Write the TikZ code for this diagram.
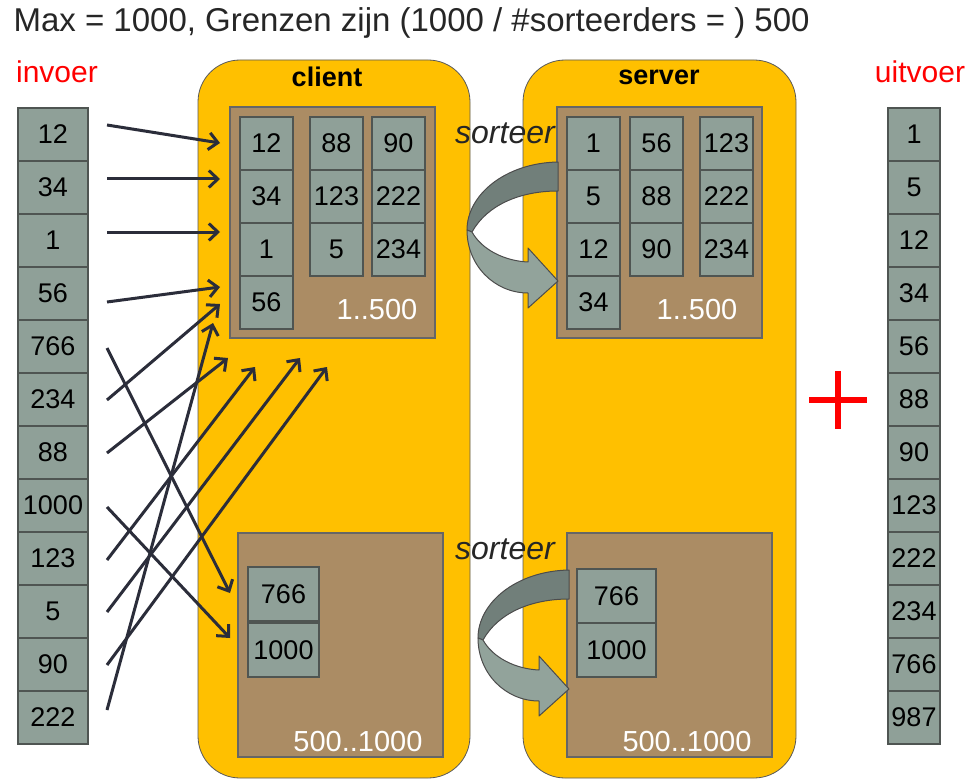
\documentclass[tikz,border=0pt]{standalone}
\usepackage{fontspec}
\setmainfont{Liberation Sans}
\usetikzlibrary{arrows.meta,calc}
\definecolor{ylw}{HTML}{FFC000}
\definecolor{brn}{HTML}{AB8C64}
\definecolor{cellfill}{HTML}{8FA098}
\definecolor{cellline}{HTML}{4F5552}
\definecolor{arrdark}{HTML}{717F7A}
\definecolor{arrlight}{HTML}{92A39B}
\definecolor{conncol}{HTML}{2B2D3A}
\tikzset{
  cell/.style={draw=cellline, fill=cellfill, line width=1.2pt, minimum width=53pt, minimum height=53pt, inner sep=0pt, font=\fontsize{27}{30}\selectfont, text=black},
  brownbox/.style={draw=gray!80!black, fill=brn, line width=1.2pt, inner sep=0pt},
  sidebox/.style={draw=gray!70!black, fill=ylw, line width=0.8pt, rounded corners=42pt},
  conn/.style={draw=conncol, line width=3pt, -{Straight Barb[length=9pt,width=17pt,line width=3pt]}},
  rangelbl/.style={text=white, font=\fontsize{29}{32}\selectfont},
  sortlbl/.style={font=\fontsize{32}{34}\selectfont\itshape, text=black!85},
  curvearrow/.style={draw=gray!60!black, line width=1pt, line join=round},
}
\begin{document}
\begin{tikzpicture}[x=1pt,y=-1pt]
\useasboundingbox (0,0) rectangle (975,781);
\fill[white] (0,0) rectangle (975,781);
% client / server
\draw[sidebox] (198,60) rectangle (470,778);
\draw[sidebox] (523,60) rectangle (796,778);
\node[font=\fontsize{27}{30}\selectfont\bfseries] (clientlbl) at (327,77) {client};
\node[font=\fontsize{27}{30}\selectfont\bfseries] (serverlbl) at (659,77) {server};
% brown boxes
\node[brownbox, minimum width=205pt, minimum height=231pt] (ctop) at (332.5,222.5) {};
\node[brownbox, minimum width=205pt, minimum height=231pt] (stop) at (659.5,222.5) {};
\node[brownbox, minimum width=205pt, minimum height=224pt] (cbot) at (340.5,645) {};
\node[brownbox, minimum width=205pt, minimum height=224pt] (sbot) at (669.5,645) {};
\node[rangelbl] (r1) at (377,310) {1..500};
\node[rangelbl] (r2) at (697,310) {1..500};
\node[rangelbl] (r3) at (358,742) {500..1000};
\node[rangelbl] (r4) at (687,742) {500..1000};
% input / output
\foreach \v [count=\i] in {12,34,1,56,766,234,88,1000,123,5,90,222}
  \node[cell, minimum width=70pt] (in\i) at (53,81.5+53*\i) {\v};
\foreach \v [count=\i] in {1,5,12,34,56,88,90,123,222,234,766,987}
  \node[cell, minimum width=52pt] (out\i) at (914,81.5+53*\i) {\v};
% client top cells
\foreach \v [count=\i] in {12,34,1,56}
  \node[cell] (ca\i) at (266.5,90.5+53*\i) {\v};
\foreach \v [count=\i] in {88,123,5}
  \node[cell] (cb\i) at (336.5,90.5+53*\i) {\v};
\foreach \v [count=\i] in {90,222,234}
  \node[cell] (cc\i) at (398.5,90.5+53*\i) {\v};
% server top cells
\foreach \v [count=\i] in {1,5,12,34}
  \node[cell] (sa\i) at (593.5,90.5+53*\i) {\v};
\foreach \v [count=\i] in {56,88,90}
  \node[cell] (sb\i) at (656.5,90.5+53*\i) {\v};
\foreach \v [count=\i] in {123,222,234}
  \node[cell] (sc\i) at (726.5,90.5+53*\i) {\v};
% bottom cells
\node[cell, minimum width=71pt, minimum height=54pt] (cd1) at (283.5,594) {766};
\node[cell, minimum width=71pt, minimum height=54pt] (cd2) at (283.5,650) {1000};
\node[cell, minimum width=79pt, minimum height=54pt] (sd1) at (616.5,596) {766};
\node[cell, minimum width=79pt, minimum height=54pt] (sd2) at (616.5,650) {1000};
% connector endpoints
\coordinate (s1) at (107,125);
\coordinate (s2) at (107,179);
\coordinate (s3) at (107,232);
\coordinate (s4) at (107,302);
\coordinate (s5) at (107,348);
\coordinate (s6) at (107,400);
\coordinate (s7) at (107,453);
\coordinate (s8) at (107,507);
\coordinate (s9) at (107,560);
\coordinate (s10) at (107,612);
\coordinate (s11) at (107,665);
\coordinate (s12) at (107,710);
\coordinate (t1) at (220,143);
\coordinate (t2) at (220,179);
\coordinate (t3) at (220,232);
\coordinate (t4) at (220,287);
\coordinate (t5) at (230,593);
\coordinate (t6) at (220,304);
\coordinate (t7) at (228,358);
\coordinate (t8) at (230,638);
\coordinate (t9) at (255,367);
\coordinate (t10) at (300,358);
\coordinate (t11) at (327,367);
\coordinate (t12) at (213,323);
\foreach \i in {1,...,12}
  \draw[conn] (s\i) -- (t\i);
% curved arrows
\foreach \dx/\dy in {0/0,11/408}{
  \begin{scope}[shift={(\dx,\dy)}]
    \filldraw[curvearrow, fill=arrdark] (558,162) .. controls (505,163) and (467,195) .. (467,230)
      -- (472,232) .. controls (487,205) and (520,191) .. (558,191) -- cycle;
    \filldraw[curvearrow, fill=arrlight] (467,230) .. controls (467,266) and (495,293) .. (528,293)
      -- (528,308) -- (558,281) -- (528,248) -- (528,262)
      .. controls (505,261) and (482,250) .. (472,232) -- cycle;
  \end{scope}
}
\node[sortlbl] (sort1) at (505,133) {sorteer};
\node[sortlbl] (sort2) at (505,549) {sorteer};
% texts
\node[anchor=west, font=\fontsize{33}{36}\selectfont, text=black!85] (title) at (10,23) {Max = 1000, Grenzen zijn (1000 / \#sorteerders = ) 500};
\node[text=red, font=\fontsize{30}{34}\selectfont] (invoer) at (57,72) {invoer};
\node[text=red, font=\fontsize{30}{34}\selectfont] (uitvoer) at (920,72) {uitvoer};
% plus
\draw[red, line width=6pt] (809,400) -- (867,400);
\draw[red, line width=6pt] (838,371) -- (838,429);
\end{tikzpicture}
\end{document}
